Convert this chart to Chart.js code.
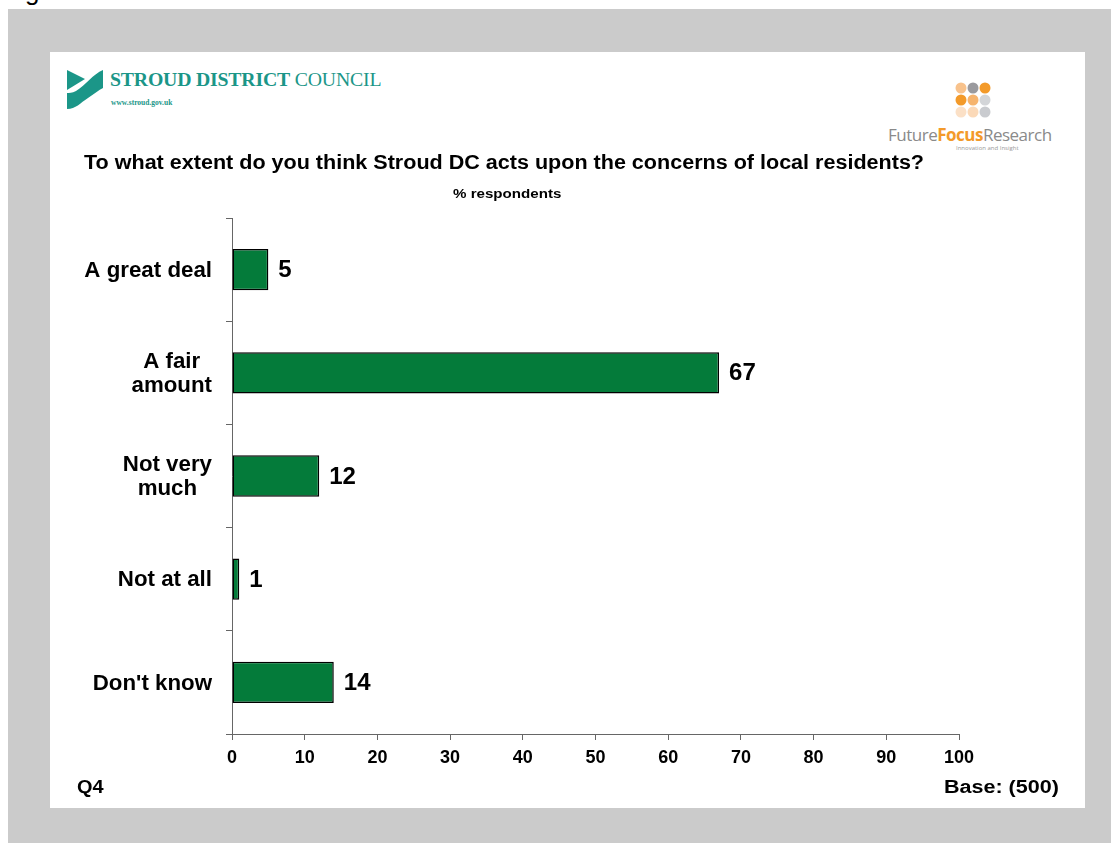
<!DOCTYPE html>
<html>
<head>
<meta charset="utf-8">
<script src="https://cdn.jsdelivr.net/npm/chart.js@4.4.1/dist/chart.umd.min.js"></script>
<style>
  body { margin: 0; width: 1111px; height: 843px; background: #fff; position: relative; overflow: hidden;
         font-family: "Liberation Sans", Arial, sans-serif; }
  #frame { position: absolute; left: 8px; top: 9px; width: 1103px; height: 834px; background: #cbcbcb; }
  #panel { position: absolute; left: 50px; top: 52px; width: 1035px; height: 756px; background: #fff; }
  #chartBox { position: absolute; left: 0; top: 0; width: 1035px; height: 756px; }
  .txt { position: absolute; white-space: nowrap; color: #000; font-weight: bold; transform-origin: 0 50%; }
  #cut { position: absolute; left: 25px; top: -24px; font-size: 26px; font-family: "Liberation Sans", Arial; }
  .sdc { position: absolute; left: 60px; top: 16px; font-family: "Liberation Serif", "Times New Roman", serif;
         color: #1b9688; font-size: 19.8px; white-space: nowrap; letter-spacing: -0.2px; }
  .sdc-url { position: absolute; left: 61px; top: 46px; font-family: "Liberation Serif", serif; color: #1b9688;
             font-size: 7.5px; font-weight: bold; }
  .ffr { position: absolute; left: 838px; top: 71px; font-family: "Open Sans", "Liberation Sans", sans-serif;
         font-size: 17px; color: #8a8a8a; white-space: nowrap; letter-spacing: -0.5px; }
  .ffr b { color: #f39a2a; }
  .ffr-sub { position: absolute; left: 906px; top: 92px; font-family: "Open Sans", sans-serif; font-size: 6px; color: #999; }
</style>
</head>
<body>
<div id="cut">g</div>
<div id="frame"></div>
<div id="panel">
  <svg style="position:absolute;left:16px;top:17px" width="40" height="42" viewBox="0 0 40 42">
    <path d="M1,1 L19,10 L1,21 Z" fill="#1b9688"/>
    <path d="M37,1 C27,5 20,16 10,22 C6,24 3,24 1,24 L1,40 C10,40 14,34 22,29 C28,25 33,21 37,19 Z" fill="#1b9688"/>
  </svg>
  <div class="sdc"><b>STROUD DISTRICT</b> COUNCIL</div>
  <div class="sdc-url">www.stroud.gov.uk</div>
  <svg id="dots" style="position:absolute;left:904px;top:30px" width="40" height="40"></svg>
  <div class="ffr">Future<b>Focus</b>Research</div>
  <div class="ffr-sub">Innovation and Insight</div>
  <div id="chartBox"><canvas id="canvas"></canvas></div>
  <div class="txt" style="left:34px;top:99px;font-size:19.5px;transform:scaleX(1.105);">To what extent do you think Stroud DC acts upon the concerns of local residents?</div>
  <div class="txt" style="left:403px;top:134px;font-size:13.5px;transform:scaleX(1.12);">% respondents</div>
  <div class="txt" style="left:27px;top:725px;font-size:17.5px;transform:scaleX(1.14);">Q4</div>
  <div class="txt" style="left:894px;top:725px;font-size:17.5px;transform:scaleX(1.23);">Base: (500)</div>
</div>
<script>
var categories = [["A great deal"], ["A fair", "amount"], ["Not very", "much"], ["Not at all"], ["Don't know"]];
var respondents = [5, 67, 12, 1, 14];
var xTicks = [0, 10, 20, 30, 40, 50, 60, 70, 80, 90, 100];
var barColor = "#047b3a";

// logo dots for the research agency mark
var dotColors = ["#f8c28c", "#9a9a9e", "#f39a2a", "#f39a2a", "#f6b46e", "#d3d5d8", "#fbe0c6", "#fbd9b8", "#c9cbcf"];
var svg = document.getElementById("dots");
for (var i = 0; i < dotColors.length; i++) {
    var c = document.createElementNS("http://www.w3.org/2000/svg", "circle");
    c.setAttribute("cx", 7 + (i % 3) * 12);
    c.setAttribute("cy", 6 + Math.floor(i / 3) * 12);
    c.setAttribute("r", 5.5);
    c.setAttribute("fill", dotColors[i]);
    svg.appendChild(c);
}

var FONT = "'Liberation Sans', Arial, sans-serif";

var valueLabels = {
    id: "valueLabels",
    afterDatasetsDraw: function (chart) {
        var ctx = chart.ctx;
        var meta = chart.getDatasetMeta(0);
        ctx.save();
        ctx.font = "bold 24px " + FONT;
        ctx.fillStyle = "#000";
        ctx.textAlign = "left";
        ctx.textBaseline = "middle";
        meta.data.forEach(function (bar, i) {
            ctx.fillText(respondents[i], bar.x + 10, bar.y + 1);
        });
        ctx.restore();
    }
};

// category names, each block centred on its own lines
var categoryLabels = {
    id: "categoryLabels",
    afterDraw: function (chart) {
        var ctx = chart.ctx;
        var y = chart.scales.y;
        var right = chart.chartArea.left - 20;
        ctx.save();
        ctx.font = "bold 22.3px " + FONT;
        ctx.fillStyle = "#000";
        ctx.textAlign = "center";
        ctx.textBaseline = "middle";
        categories.forEach(function (lines, i) {
            var w = 0;
            lines.forEach(function (l) { w = Math.max(w, ctx.measureText(l).width); });
            var cy = y.getPixelForValue(i);
            var lh = 24;
            var top = cy - (lines.length - 1) * lh / 2;
            lines.forEach(function (l, k) {
                ctx.fillText(l, right - w / 2, top + k * lh + 1);
            });
        });
        ctx.restore();
    }
};

new Chart(document.getElementById("canvas"), {
    type: "bar",
    data: {
        labels: categories.map(function (c) { return c.join(" "); }),
        datasets: [{
            data: respondents,
            backgroundColor: barColor,
            borderColor: "#000",
            borderWidth: 1.5,
            borderSkipped: false,
            categoryPercentage: 1,
            barPercentage: 0.4
        }]
    },
    options: {
        indexAxis: "y",
        responsive: true,
        maintainAspectRatio: false,
        animation: false,
        layout: { padding: { left: 0, right: 126, top: 166, bottom: 0 } },
        plugins: { legend: { display: false }, tooltip: { enabled: false } },
        scales: {
            x: {
                min: 0,
                max: 100,
                afterBuildTicks: function (scale) {
                    scale.ticks = xTicks.map(function (v) { return { value: v }; });
                },
                grid: { drawOnChartArea: false, tickLength: 6, color: "#666" },
                border: { color: "#666", width: 1 },
                ticks: { color: "#000", padding: 7, font: { family: FONT, size: 18, weight: "bold" } },
                afterFit: function (scale) { scale.height = 74; }
            },
            y: {
                grid: { drawOnChartArea: false, tickLength: 6, color: "#666", offset: true },
                border: { color: "#666", width: 1 },
                ticks: { color: "rgba(0,0,0,0)" },
                afterFit: function (scale) { scale.width = 182; }
            }
        }
    },
    plugins: [valueLabels, categoryLabels]
});
</script>
</body>
</html>
